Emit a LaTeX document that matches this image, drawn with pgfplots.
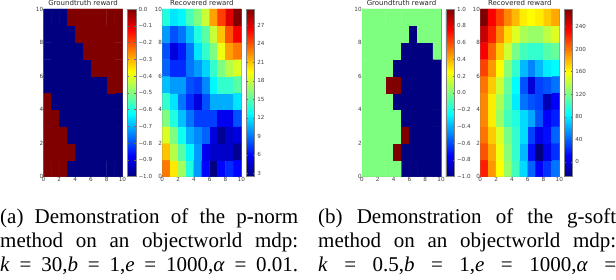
\documentclass[border=0pt]{standalone}
\usepackage{fontspec}
\setmainfont{DejaVu Sans}
\newfontfamily\capfont{Liberation Serif}
\usepackage{pgfplots}
\pgfplotsset{compat=1.18}
\definecolor{fr}{gray}{0.5}
\pgfplotsset{
 hm/.style={
  scale only axis, width=79pt, height=167.6pt, anchor=south west,
  xmin=0,xmax=10,ymin=0,ymax=10,
  xtick={0,2,4,6,8,10},ytick={0,2,4,6,8,10},
  /pgf/number format/assume math mode=true,
  tick label style={font=\fontsize{5.7}{6}\selectfont,text=black!75},
  title style={font=\fontsize{7}{8}\selectfont,text=black!85,yshift=-6.5pt},
  axis line style={draw=fr,line width=0.9pt},
  tick align=inside, tick style={draw=black!60,line width=0.3pt},
  major tick length=1.5pt,
  xticklabel style={yshift=2.5pt}, yticklabel style={xshift=3.2pt},
  colormap/jet,
  colorbar,
 },
 cb/.style={
  width=8.5pt,
  xshift=-10.5pt,
  axis line style={draw=fr,line width=0.9pt},
  tick label style={font=\fontsize{5.6}{6}\selectfont,text=black!75},
  yticklabel style={xshift=-1pt},
  major tick length=1.5pt,
 }
}
\newcommand{\capline}[3]{\node[anchor=base west,inner sep=0pt,font=\capfont\fontsize{21}{24}\selectfont] at (#1pt,#2pt) {\makebox[298pt][s]{#3}};}
\begin{document}
\begin{tikzpicture}[x=1pt,y=1pt]
\useasboundingbox (0,0) rectangle (616pt,280pt);
\begin{axis}[hm,at={(43.5pt,103.4pt)},title={Groundtruth reward},
 point meta min=-1,point meta max=0,
 colorbar style={cb,ytick={-1,-0.9,-0.8,-0.7,-0.6,-0.5,-0.4,-0.3,-0.2,-0.1,0},
 yticklabels={−1.0,−0.9,−0.8,−0.7,−0.6,−0.5,−0.4,−0.3,−0.2,−0.1,0.0}}]
\addplot[matrix plot*,mesh/cols=10,point meta=explicit] table[meta=c,row sep=\\]{
x y c\\
0.5 0.5 0\\ 1.5 0.5 0\\ 2.5 0.5 0\\ 3.5 0.5 -1\\ 4.5 0.5 -1\\ 5.5 0.5 -1\\ 6.5 0.5 -1\\ 7.5 0.5 -1\\ 8.5 0.5 -1\\ 9.5 0.5 -1\\
0.5 1.5 0\\ 1.5 1.5 0\\ 2.5 1.5 0\\ 3.5 1.5 0\\ 4.5 1.5 -1\\ 5.5 1.5 -1\\ 6.5 1.5 -1\\ 7.5 1.5 -1\\ 8.5 1.5 -1\\ 9.5 1.5 -1\\
0.5 2.5 0\\ 1.5 2.5 0\\ 2.5 2.5 0\\ 3.5 2.5 -1\\ 4.5 2.5 -1\\ 5.5 2.5 -1\\ 6.5 2.5 -1\\ 7.5 2.5 -1\\ 8.5 2.5 -1\\ 9.5 2.5 -1\\
0.5 3.5 0\\ 1.5 3.5 0\\ 2.5 3.5 -1\\ 3.5 3.5 -1\\ 4.5 3.5 -1\\ 5.5 3.5 -1\\ 6.5 3.5 -1\\ 7.5 3.5 -1\\ 8.5 3.5 -1\\ 9.5 3.5 -1\\
0.5 4.5 0\\ 1.5 4.5 -1\\ 2.5 4.5 -1\\ 3.5 4.5 -1\\ 4.5 4.5 -1\\ 5.5 4.5 -1\\ 6.5 4.5 -1\\ 7.5 4.5 -1\\ 8.5 4.5 -1\\ 9.5 4.5 -1\\
0.5 5.5 -1\\ 1.5 5.5 -1\\ 2.5 5.5 -1\\ 3.5 5.5 -1\\ 4.5 5.5 -1\\ 5.5 5.5 -1\\ 6.5 5.5 -1\\ 7.5 5.5 -1\\ 8.5 5.5 0\\ 9.5 5.5 0\\
0.5 6.5 -1\\ 1.5 6.5 -1\\ 2.5 6.5 -1\\ 3.5 6.5 -1\\ 4.5 6.5 -1\\ 5.5 6.5 -1\\ 6.5 6.5 0\\ 7.5 6.5 0\\ 8.5 6.5 0\\ 9.5 6.5 0\\
0.5 7.5 -1\\ 1.5 7.5 -1\\ 2.5 7.5 -1\\ 3.5 7.5 -1\\ 4.5 7.5 -1\\ 5.5 7.5 0\\ 6.5 7.5 0\\ 7.5 7.5 0\\ 8.5 7.5 0\\ 9.5 7.5 0\\
0.5 8.5 -1\\ 1.5 8.5 -1\\ 2.5 8.5 -1\\ 3.5 8.5 -1\\ 4.5 8.5 0\\ 5.5 8.5 0\\ 6.5 8.5 0\\ 7.5 8.5 0\\ 8.5 8.5 0\\ 9.5 8.5 0\\
0.5 9.5 -1\\ 1.5 9.5 -1\\ 2.5 9.5 -1\\ 3.5 9.5 0\\ 4.5 9.5 0\\ 5.5 9.5 0\\ 6.5 9.5 0\\ 7.5 9.5 0\\ 8.5 9.5 0\\ 9.5 9.5 0\\
};
\end{axis}
\begin{axis}[hm,at={(162.3pt,103.4pt)},title={Recovered reward},
 point meta min=2.5,point meta max=29.6,
 colorbar style={cb,ytick={3,6,9,12,15,18,21,24,27},yticklabels={3,6,9,12,15,18,21,24,27}}]
\addplot[matrix plot*,mesh/cols=10,point meta=explicit] table[meta=c,row sep=\\]{
x y c\\
0.5 0.5 23\\ 1.5 0.5 20\\ 2.5 0.5 17\\ 3.5 0.5 13.5\\ 4.5 0.5 10\\ 5.5 0.5 6\\ 6.5 0.5 2.5\\ 7.5 0.5 6\\ 8.5 0.5 7\\ 9.5 0.5 6\\
0.5 1.5 21\\ 1.5 1.5 17.5\\ 2.5 1.5 15\\ 3.5 1.5 12.5\\ 4.5 1.5 10\\ 5.5 1.5 5.5\\ 6.5 1.5 4.5\\ 7.5 1.5 4.5\\ 8.5 1.5 4.5\\ 9.5 1.5 3\\
0.5 2.5 18.5\\ 1.5 2.5 16\\ 2.5 2.5 13\\ 3.5 2.5 10.5\\ 4.5 2.5 9.5\\ 5.5 2.5 8.5\\ 6.5 2.5 5\\ 7.5 2.5 3\\ 8.5 2.5 4.5\\ 9.5 2.5 5\\
0.5 3.5 16\\ 1.5 3.5 13.5\\ 2.5 3.5 11\\ 3.5 3.5 9\\ 4.5 3.5 7.5\\ 5.5 3.5 7.5\\ 6.5 3.5 7.5\\ 7.5 3.5 5.5\\ 8.5 3.5 5.5\\ 9.5 3.5 8\\
0.5 4.5 14\\ 1.5 4.5 12\\ 2.5 4.5 9\\ 3.5 4.5 7\\ 4.5 4.5 5\\ 5.5 4.5 8\\ 6.5 4.5 10.5\\ 7.5 4.5 10.5\\ 8.5 4.5 10.5\\ 9.5 4.5 12\\
0.5 5.5 11\\ 1.5 5.5 10\\ 2.5 5.5 10\\ 3.5 5.5 8\\ 4.5 5.5 7.5\\ 5.5 5.5 9.5\\ 6.5 5.5 12.5\\ 7.5 5.5 14\\ 8.5 5.5 14\\ 9.5 5.5 15\\
0.5 6.5 8.5\\ 1.5 6.5 7\\ 2.5 6.5 7\\ 3.5 6.5 9\\ 4.5 6.5 10\\ 5.5 6.5 11.5\\ 6.5 6.5 14\\ 7.5 6.5 16\\ 8.5 6.5 17.5\\ 9.5 6.5 18.5\\
0.5 7.5 8\\ 1.5 7.5 5\\ 2.5 7.5 6.5\\ 3.5 7.5 9\\ 4.5 7.5 12\\ 5.5 7.5 14\\ 6.5 7.5 16\\ 7.5 7.5 19\\ 8.5 7.5 22\\ 9.5 7.5 23\\
0.5 8.5 10\\ 1.5 8.5 8\\ 2.5 8.5 9\\ 3.5 8.5 11\\ 4.5 8.5 13.5\\ 5.5 8.5 15\\ 6.5 8.5 18\\ 7.5 8.5 21\\ 8.5 8.5 24\\ 9.5 8.5 26.5\\
0.5 9.5 13.5\\ 1.5 9.5 12\\ 2.5 9.5 12.5\\ 3.5 9.5 14.5\\ 4.5 9.5 16\\ 5.5 9.5 18\\ 6.5 9.5 22\\ 7.5 9.5 24.5\\ 8.5 9.5 27\\ 9.5 9.5 29.6\\
};
\end{axis}
\begin{axis}[hm,at={(362pt,103.4pt)},title={Groundtruth reward},
 point meta min=-1,point meta max=1,
 colorbar style={cb,ytick={-1,-0.8,-0.6,-0.4,-0.2,0,0.2,0.4,0.6,0.8,1},
 yticklabels={−1.0,−0.8,−0.6,−0.4,−0.2,0.0,0.2,0.4,0.6,0.8,1.0}}]
\addplot[matrix plot*,mesh/cols=10,point meta=explicit] table[meta=c,row sep=\\]{
x y c\\
0.5 0.5 0\\ 1.5 0.5 0\\ 2.5 0.5 0\\ 3.5 0.5 0\\ 4.5 0.5 0\\ 5.5 0.5 -1\\ 6.5 0.5 -1\\ 7.5 0.5 -1\\ 8.5 0.5 -1\\ 9.5 0.5 -1\\
0.5 1.5 0\\ 1.5 1.5 0\\ 2.5 1.5 0\\ 3.5 1.5 0\\ 4.5 1.5 1\\ 5.5 1.5 -1\\ 6.5 1.5 -1\\ 7.5 1.5 -1\\ 8.5 1.5 -1\\ 9.5 1.5 -1\\
0.5 2.5 0\\ 1.5 2.5 0\\ 2.5 2.5 0\\ 3.5 2.5 0\\ 4.5 2.5 0\\ 5.5 2.5 1\\ 6.5 2.5 -1\\ 7.5 2.5 -1\\ 8.5 2.5 -1\\ 9.5 2.5 -1\\
0.5 3.5 0\\ 1.5 3.5 0\\ 2.5 3.5 0\\ 3.5 3.5 0\\ 4.5 3.5 0\\ 5.5 3.5 -1\\ 6.5 3.5 -1\\ 7.5 3.5 -1\\ 8.5 3.5 -1\\ 9.5 3.5 -1\\
0.5 4.5 0\\ 1.5 4.5 0\\ 2.5 4.5 0\\ 3.5 4.5 0\\ 4.5 4.5 -1\\ 5.5 4.5 -1\\ 6.5 4.5 -1\\ 7.5 4.5 -1\\ 8.5 4.5 -1\\ 9.5 4.5 -1\\
0.5 5.5 0\\ 1.5 5.5 0\\ 2.5 5.5 0\\ 3.5 5.5 1\\ 4.5 5.5 1\\ 5.5 5.5 -1\\ 6.5 5.5 -1\\ 7.5 5.5 -1\\ 8.5 5.5 -1\\ 9.5 5.5 -1\\
0.5 6.5 0\\ 1.5 6.5 0\\ 2.5 6.5 0\\ 3.5 6.5 0\\ 4.5 6.5 -1\\ 5.5 6.5 -1\\ 6.5 6.5 -1\\ 7.5 6.5 -1\\ 8.5 6.5 -1\\ 9.5 6.5 -1\\
0.5 7.5 0\\ 1.5 7.5 0\\ 2.5 7.5 0\\ 3.5 7.5 0\\ 4.5 7.5 0\\ 5.5 7.5 -1\\ 6.5 7.5 -1\\ 7.5 7.5 -1\\ 8.5 7.5 -1\\ 9.5 7.5 0\\
0.5 8.5 0\\ 1.5 8.5 0\\ 2.5 8.5 0\\ 3.5 8.5 0\\ 4.5 8.5 0\\ 5.5 8.5 0\\ 6.5 8.5 -1\\ 7.5 8.5 0\\ 8.5 8.5 0\\ 9.5 8.5 0\\
0.5 9.5 0\\ 1.5 9.5 0\\ 2.5 9.5 0\\ 3.5 9.5 0\\ 4.5 9.5 0\\ 5.5 9.5 0\\ 6.5 9.5 0\\ 7.5 9.5 0\\ 8.5 9.5 0\\ 9.5 9.5 0\\
};
\end{axis}
\begin{axis}[hm,at={(480.3pt,103.4pt)},title={Recovered reward},
 point meta min=-26,point meta max=271,
 colorbar style={cb,ytick={0,40,80,120,160,200,240},yticklabels={0,40,80,120,160,200,240}}]
\addplot[matrix plot*,mesh/cols=10,point meta=explicit] table[meta=c,row sep=\\]{
x y c\\
0.5 0.5 225\\ 1.5 0.5 190\\ 2.5 0.5 160\\ 3.5 0.5 130\\ 4.5 0.5 105\\ 5.5 0.5 75\\ 6.5 0.5 40\\ 7.5 0.5 10\\ 8.5 0.5 25\\ 9.5 0.5 45\\
0.5 1.5 210\\ 1.5 1.5 185\\ 2.5 1.5 155\\ 3.5 1.5 125\\ 4.5 1.5 100\\ 5.5 1.5 65\\ 6.5 1.5 15\\ 7.5 1.5 -26\\ 8.5 1.5 5\\ 9.5 1.5 25\\
0.5 2.5 200\\ 1.5 2.5 175\\ 2.5 2.5 150\\ 3.5 2.5 120\\ 4.5 2.5 100\\ 5.5 2.5 75\\ 6.5 2.5 30\\ 7.5 2.5 5\\ 8.5 2.5 15\\ 9.5 2.5 40\\
0.5 3.5 195\\ 1.5 3.5 165\\ 2.5 3.5 130\\ 3.5 3.5 105\\ 4.5 3.5 95\\ 5.5 3.5 75\\ 6.5 3.5 60\\ 7.5 3.5 35\\ 8.5 3.5 10\\ 9.5 3.5 20\\
0.5 4.5 195\\ 1.5 4.5 165\\ 2.5 4.5 135\\ 3.5 4.5 110\\ 4.5 4.5 80\\ 5.5 4.5 45\\ 6.5 4.5 35\\ 7.5 4.5 30\\ 8.5 4.5 -10\\ 9.5 4.5 10\\
0.5 5.5 200\\ 1.5 5.5 175\\ 2.5 5.5 145\\ 3.5 5.5 115\\ 4.5 5.5 85\\ 5.5 5.5 35\\ 6.5 5.5 0\\ 7.5 5.5 30\\ 8.5 5.5 35\\ 9.5 5.5 45\\
0.5 6.5 215\\ 1.5 6.5 190\\ 2.5 6.5 160\\ 3.5 6.5 125\\ 4.5 6.5 100\\ 5.5 6.5 65\\ 6.5 6.5 50\\ 7.5 6.5 65\\ 8.5 6.5 80\\ 9.5 6.5 85\\
0.5 7.5 235\\ 1.5 7.5 205\\ 2.5 7.5 175\\ 3.5 7.5 145\\ 4.5 7.5 120\\ 5.5 7.5 105\\ 6.5 7.5 100\\ 7.5 7.5 100\\ 8.5 7.5 110\\ 9.5 7.5 115\\
0.5 8.5 250\\ 1.5 8.5 225\\ 2.5 8.5 195\\ 3.5 8.5 170\\ 4.5 8.5 150\\ 5.5 8.5 135\\ 6.5 8.5 130\\ 7.5 8.5 130\\ 8.5 8.5 140\\ 9.5 8.5 150\\
0.5 9.5 271\\ 1.5 9.5 235\\ 2.5 9.5 215\\ 3.5 9.5 195\\ 4.5 9.5 180\\ 5.5 9.5 165\\ 6.5 9.5 160\\ 7.5 9.5 165\\ 8.5 9.5 175\\ 9.5 9.5 185\\
};
\end{axis}
\capline{0}{56}{(a) Demonstration of the p-norm}
\capline{0}{32}{method on an objectworld mdp:}
\capline{0}{8}{\textit{k} = 30,\textit{b} = 1,\textit{e} = 1000,\textit{α} = 0.01.}
\capline{318}{56}{(b) Demonstration of the g-soft}
\capline{318}{32}{method on an objectworld mdp:}
\capline{318}{8}{\textit{k} = 0.5,\textit{b} = 1,\textit{e} = 1000,\textit{α} =}
\end{tikzpicture}
\end{document}
